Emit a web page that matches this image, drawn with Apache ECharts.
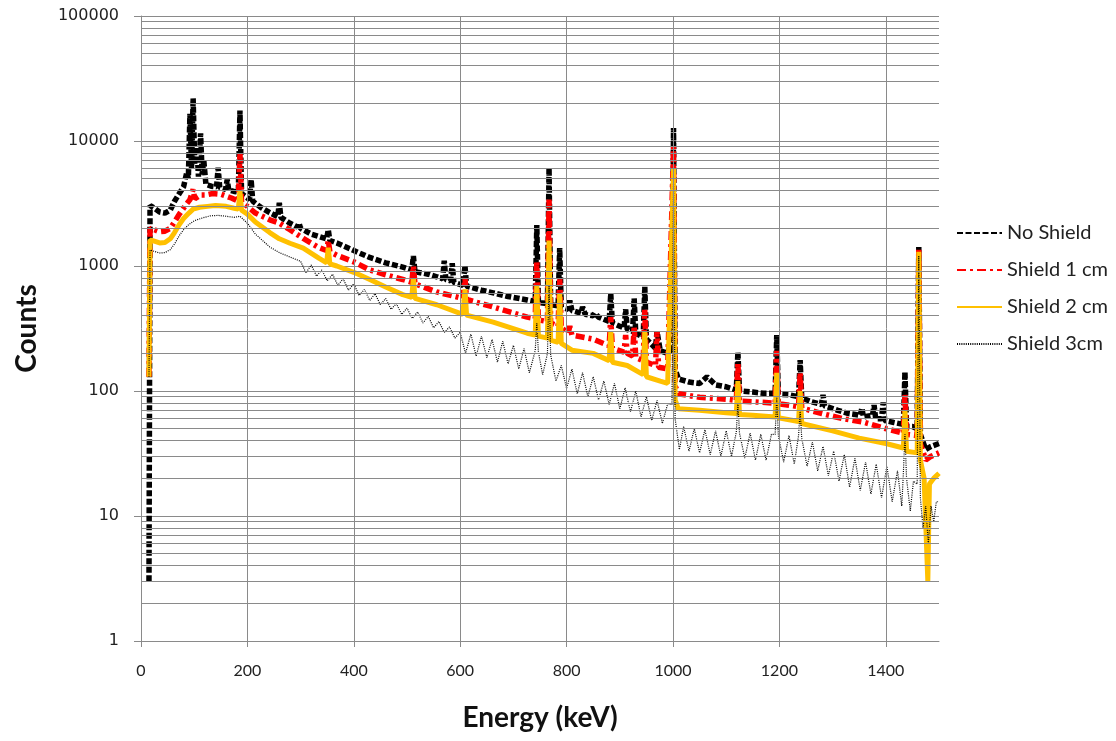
<!DOCTYPE html>
<html>
<head>
<meta charset="utf-8">
<script src="https://cdn.jsdelivr.net/npm/echarts@6/dist/echarts.min.js"></script>
<style>
html, body { margin: 0; padding: 0; background: #fff; }
#chart { width: 1116px; height: 741px; }
</style>
</head>
<body>
<div id="chart"></div>
<script>
// [energy keV, counts]
var noShield = [
  [15, 3], [17, 3050], [25, 2900], [35, 2700], [45, 2650], [55, 2800], [63, 3300], [66, 3200], [72, 3800], [80, 4300],
  [86, 5600], [89, 5000], [92, 16500], [95, 6000], [98, 22000], [101, 6500], [105, 9000], [108, 5200], [112, 11500], [115, 5400],
  [118, 7000], [122, 4500], [132, 4350], [142, 4300], [145, 6100], [148, 4250], [159, 4100], [162, 4900], [165, 4050], [175, 3950],
  [183, 3900], [186, 17500], [189, 3800], [200, 3500], [204, 3400], [207, 4900], [210, 3300], [225, 2950], [242, 2670], [257, 2480],
  [260, 3200], [263, 2450], [280, 2200], [294, 2050], [297, 2200], [300, 2000], [320, 1800], [349, 1650], [352, 1950], [355, 1600],
  [368, 1530], [400, 1330], [430, 1170], [460, 1060], [492, 980], [509, 930], [512, 1200], [515, 900], [540, 860], [556, 820],
  [567, 790], [570, 1100], [573, 780], [582, 760], [585, 1050], [588, 740], [605, 700], [609, 1000], [612, 690], [640, 640],
  [662, 610], [690, 570], [726, 535], [741, 520], [744, 2130], [747, 510], [764, 500], [767, 6100], [770, 490], [784, 480],
  [787, 1390], [790, 470], [803, 450], [806, 530], [810, 440], [827, 420], [830, 470], [835, 410], [850, 400], [853, 420],
  [860, 390], [880, 360], [883, 600], [886, 350], [900, 330], [908, 320], [911, 450], [914, 310], [924, 300], [927, 550],
  [930, 290], [944, 270], [947, 680], [950, 260], [967, 220], [970, 300], [976, 210], [990, 200], [994, 230], [998, 200],
  [1001, 12700], [1004, 150], [1010, 125], [1030, 118], [1050, 115], [1064, 130], [1080, 112], [1100, 108], [1119, 102], [1122, 205],
  [1125, 100], [1150, 98], [1170, 96], [1192, 96], [1195, 280], [1198, 94], [1220, 93], [1236, 90], [1239, 177], [1242, 88],
  [1260, 82], [1279, 78], [1282, 93], [1285, 76], [1310, 70], [1330, 66], [1352, 64], [1355, 73], [1358, 62], [1375, 64],
  [1378, 77], [1381, 60], [1392, 60], [1395, 81], [1398, 58], [1415, 56], [1433, 54], [1436, 142], [1439, 52], [1450, 52],
  [1459, 50], [1462, 1420], [1465, 45], [1475, 34], [1485, 36], [1500, 38]
];
var shield1 = [
  [15, 130], [17, 2000], [25, 1950], [35, 1880], [45, 1900], [55, 2000], [63, 2250], [72, 2600], [80, 2900], [86, 3150],
  [92, 3400], [95, 3300], [98, 4100], [101, 3450], [112, 3700], [122, 3700], [135, 3800], [150, 3750], [170, 3500], [183, 3300],
  [186, 8000], [189, 3250], [200, 3000], [215, 2650], [242, 2340], [260, 2200], [280, 1950], [305, 1660], [335, 1400], [349, 1330],
  [352, 1600], [355, 1300], [368, 1220], [400, 1080], [430, 930], [460, 850], [492, 780], [509, 740], [512, 1000], [515, 720],
  [556, 620], [605, 550], [609, 800], [612, 540], [662, 470], [726, 390], [741, 380], [744, 1100], [747, 370], [764, 360],
  [767, 3400], [770, 350], [784, 330], [787, 800], [790, 320], [803, 290], [806, 330], [810, 280], [850, 260], [880, 230],
  [883, 390], [886, 220], [908, 205], [911, 280], [914, 200], [924, 190], [927, 330], [930, 185], [944, 175], [947, 450],
  [950, 170], [967, 160], [970, 300], [973, 155], [990, 150], [1001, 9000], [1004, 110], [1010, 95], [1050, 89], [1100, 86],
  [1119, 84], [1122, 170], [1125, 83], [1150, 82], [1192, 80], [1195, 210], [1198, 79], [1236, 75], [1239, 140], [1242, 73],
  [1280, 66], [1320, 60], [1360, 56], [1400, 50], [1433, 46], [1436, 95], [1439, 45], [1459, 44], [1462, 1350], [1465, 38],
  [1475, 28], [1485, 30], [1500, 32]
];
var shield2 = [
  [15, 130], [17, 1620], [25, 1580], [35, 1530], [45, 1540], [55, 1650], [63, 1850], [72, 2150], [80, 2400], [90, 2650],
  [98, 2850], [110, 2950], [125, 3000], [140, 3050], [160, 3000], [175, 2900], [183, 2850], [186, 4000], [189, 2800], [200, 2600],
  [215, 2250], [242, 1850], [260, 1650], [280, 1520], [305, 1390], [335, 1150], [349, 1060], [352, 1400], [355, 1040], [368, 1000],
  [400, 890], [430, 780], [460, 680], [492, 590], [509, 560], [512, 800], [515, 550], [556, 490], [605, 410], [609, 650],
  [612, 405], [662, 356], [726, 290], [741, 280], [744, 700], [747, 275], [764, 265], [767, 1600], [770, 255], [784, 245],
  [787, 600], [790, 240], [810, 212], [850, 200], [880, 175], [883, 300], [886, 170], [914, 160], [944, 135], [947, 300],
  [950, 130], [976, 120], [990, 115], [1001, 6000], [1004, 85], [1010, 72], [1050, 70], [1100, 67], [1119, 66], [1122, 120],
  [1125, 65], [1150, 64], [1192, 62], [1195, 140], [1198, 61], [1236, 57], [1239, 100], [1242, 55], [1300, 48], [1350, 42],
  [1400, 38], [1433, 35], [1436, 70], [1439, 33], [1459, 32], [1462, 1300], [1465, 28], [1472, 20], [1479, 3], [1482, 18],
  [1490, 20], [1500, 22]
];
// the 3 cm trace: upper edge and the low dips of its scatter
var shield3 = [
  [15, 130], [17, 1340], [25, 1310], [35, 1270], [45, 1280], [55, 1350], [63, 1500], [72, 1750], [80, 1950], [90, 2150],
  [100, 2300], [115, 2420], [130, 2520], [145, 2540], [160, 2500], [175, 2450], [186, 2500], [200, 2200], [215, 1800], [242, 1420],
  [260, 1280], [280, 1180], [300, 1090], [310, 880], [320, 1020], [330, 830], [340, 930], [350, 760], [360, 860], [370, 700],
  [380, 790], [390, 640], [400, 720], [410, 580], [420, 650], [430, 530], [440, 600], [450, 490], [460, 550], [470, 450],
  [480, 500], [490, 410], [500, 460], [510, 380], [520, 430], [530, 350], [540, 395], [550, 320], [560, 360], [570, 295],
  [580, 325], [590, 265], [600, 295], [610, 200], [620, 285], [630, 190], [640, 275], [650, 185], [660, 258], [670, 170],
  [680, 250], [690, 165], [700, 232], [710, 150], [720, 218], [730, 140], [741, 210], [744, 350], [747, 205], [755, 135],
  [764, 200], [767, 700], [770, 195], [780, 120], [790, 160], [800, 105], [810, 150], [820, 95], [830, 140], [840, 90],
  [850, 130], [860, 85], [870, 120], [880, 78], [890, 115], [900, 72], [910, 106], [920, 68], [930, 100], [940, 62],
  [950, 90], [960, 58], [970, 84], [980, 55], [990, 79], [998, 78], [1001, 4500], [1004, 60], [1012, 34], [1020, 52],
  [1030, 33], [1040, 50], [1050, 32], [1060, 49], [1070, 31], [1080, 48], [1090, 30], [1100, 48], [1110, 30], [1119, 47],
  [1122, 80], [1125, 46], [1135, 29], [1145, 46], [1155, 28], [1165, 45], [1175, 28], [1185, 45], [1192, 45], [1195, 90],
  [1198, 44], [1208, 27], [1218, 44], [1228, 26], [1236, 44], [1239, 70], [1242, 42], [1252, 25], [1262, 39], [1272, 23],
  [1282, 36], [1292, 21], [1302, 33], [1312, 19], [1322, 31], [1332, 17], [1342, 29], [1352, 16], [1362, 27], [1372, 15],
  [1382, 26], [1392, 14], [1402, 25], [1412, 13], [1422, 23], [1430, 12], [1433, 22], [1436, 45], [1439, 20], [1446, 11],
  [1452, 19], [1459, 18], [1462, 1200], [1465, 14], [1470, 8], [1475, 12], [1480, 6], [1485, 12], [1490, 9], [1495, 13],
  [1500, 13]
];
var seriesNames = ['No Shield', 'Shield 1 cm', 'Shield 2 cm', 'Shield 3cm'];
var xTicks = [0, 200, 400, 600, 800, 1000, 1200, 1400];
var decades = [1, 10, 100, 1000, 10000];

var gridColor = '#8a8a8a';

// log axis minor lines (2..9 of each decade) and vertical grid lines
var gridLines = [];
decades.forEach(function (d) {
  for (var k = 2; k <= 9; k++) gridLines.push({ yAxis: d * k });
});
xTicks.forEach(function (v) {
  if (v > 0) gridLines.push({ xAxis: v });
});

var chart = echarts.init(document.getElementById('chart'));
var option = {
  animation: false,
  backgroundColor: '#fff',
  grid: { left: 141, right: 177, top: 16, bottom: 100 },
  legend: {
    data: seriesNames,
    orient: 'vertical',
    left: 951,
    top: 218,
    itemWidth: 45,
    itemHeight: 12,
    itemGap: 17,
    itemStyle: { opacity: 0 },
    textStyle: { fontFamily: 'Lato', fontSize: 20, color: '#222' }
  },
  xAxis: {
    type: 'value',
    min: 0,
    max: 1500,
    interval: 200,
    name: 'Energy (keV)',
    nameLocation: 'middle',
    nameGap: 63,
    nameTextStyle: { fontFamily: 'Lato', fontWeight: 'bold', fontSize: 28, color: '#111' },
    axisLine: { onZero: false, lineStyle: { color: gridColor } },
    axisTick: { length: 6, lineStyle: { color: gridColor } },
    axisLabel: {
      showMaxLabel: false,
      margin: 22,
      fontFamily: 'Lato',
      fontSize: 16,
      color: '#222',
      formatter: function (v) { return String(v); }
    },
    splitLine: { show: false }
  },
  yAxis: {
    type: 'log',
    logBase: 10,
    min: 1,
    max: 100000,
    name: 'Counts',
    nameLocation: 'middle',
    nameGap: 100,
    nameTextStyle: { fontFamily: 'Lato', fontWeight: 'bold', fontSize: 28, color: '#111' },
    axisLine: { show: true, lineStyle: { color: gridColor } },
    axisTick: { show: true, length: 7, lineStyle: { color: gridColor } },
    axisLabel: {
      margin: 22,
      fontFamily: 'DejaVu Sans',
      fontSize: 16,
      color: '#222',
      formatter: function (v) { return String(Math.round(v)); }
    },
    splitLine: { show: true, lineStyle: { color: gridColor, width: 1 } }
  },
  series: [
    {
      name: 'grid',
      type: 'line',
      z: 1,
      data: [[0, 1]],
      symbol: 'none',
      lineStyle: { opacity: 0 },
      silent: true,
      markLine: {
        silent: true,
        symbol: ['none', 'none'],
        label: { show: false },
        lineStyle: { color: gridColor, width: 1, type: 'solid' },
        emphasis: { disabled: true },
        data: gridLines
      }
    },
    {
      name: 'No Shield',
      type: 'line',
      data: noShield,
      symbol: 'none',
      color: '#000',
      lineStyle: { color: '#000', width: 5.5, type: [6, 2.5] }
    },
    {
      name: 'Shield 1 cm',
      type: 'line',
      data: shield1,
      symbol: 'none',
      color: '#ff0000',
      lineStyle: { color: '#ff0000', width: 5.5, type: [9, 4, 3, 4] }
    },
    {
      name: 'Shield 2 cm',
      type: 'line',
      data: shield2,
      symbol: 'none',
      color: '#ffc000',
      lineStyle: { color: '#ffc000', width: 5 }
    },
    {
      name: 'Shield 3cm',
      type: 'line',
      data: shield3,
      symbol: 'none',
      color: '#000',
      lineStyle: { color: '#000', width: 1.2, type: [1, 1.2] }
    }
  ]
};
chart.setOption(option);
</script>
</body>
</html>
